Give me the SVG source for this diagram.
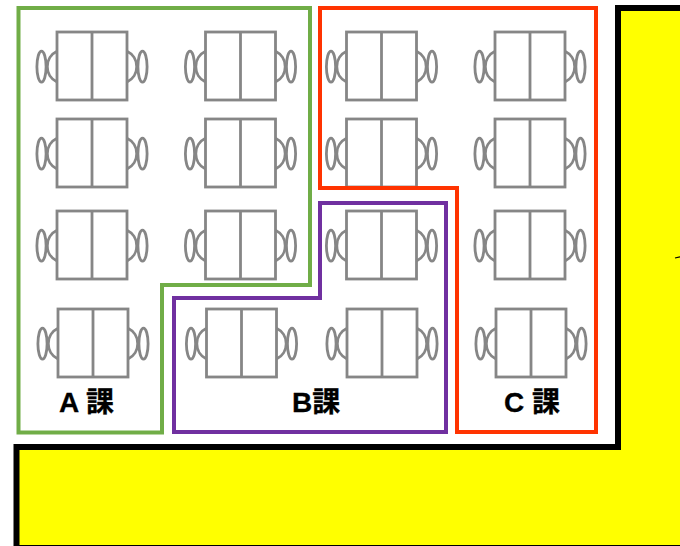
<svg xmlns="http://www.w3.org/2000/svg" width="680" height="546" viewBox="0 0 680 546">
<style>
.d{fill:#fff;stroke:#868686;stroke-width:2.800}
.c{fill:none;stroke:#868686;stroke-width:2.800}
.z{fill:none;stroke-width:4;stroke-linejoin:miter}
.t{font-family:"Liberation Sans","Noto Sans CJK JP",sans-serif;font-size:28px;font-weight:700;fill:#000;stroke:#000;stroke-width:.3}
</style>
<defs>
<g id="desk">
<ellipse class="c" cx="-15.500" cy="34.700" rx="4.600" ry="15.500"/>
<path class="c" d="M0 19.300A17 17 0 0 0 0 50"/>
<ellipse class="c" cx="85.500" cy="34.700" rx="4.600" ry="15.500"/>
<path class="c" d="M70 19.300A17 17 0 0 1 70 50"/>
<rect class="d" x="0" y="0" width="70" height="68"/>
<path class="c" d="M35 0V68"/>
</g>
</defs>
<rect width="680" height="546" fill="#fff"/>
<g id="floor"><path d="M618 8H683V548H16.500V447H618Z" fill="#ff0" stroke="#000" stroke-width="6"/>
<path d="M675 258L680 256.800" fill="none" stroke="#000" stroke-width="1.200"/></g>
<g id="desks">
<use id="desk-a1" href="#desk" x="57" y="32"/>
<use id="desk-a2" href="#desk" x="205.500" y="32"/>
<use id="desk-c1" href="#desk" x="346.500" y="32"/>
<use id="desk-c2" href="#desk" x="495" y="32"/>
<use id="desk-a3" href="#desk" x="57" y="119"/>
<use id="desk-a4" href="#desk" x="205.500" y="119"/>
<use id="desk-c3" href="#desk" x="346.500" y="119"/>
<use id="desk-c4" href="#desk" x="495" y="119"/>
<use id="desk-a5" href="#desk" x="57" y="211"/>
<use id="desk-a6" href="#desk" x="205.500" y="211"/>
<use id="desk-b1" href="#desk" x="346.500" y="211"/>
<use id="desk-c5" href="#desk" x="495" y="211"/>
<use id="desk-a7" href="#desk" x="58" y="309"/>
<use id="desk-b2" href="#desk" x="206.500" y="309"/>
<use id="desk-b3" href="#desk" x="347" y="309"/>
<use id="desk-c6" href="#desk" x="496" y="309"/>
</g>
<g id="zone-a"><path class="z" stroke="#70ad47" d="M18.500 8H310V285H162V432.500H18.500Z"/><text class="t" x="59" y="412">A 課</text></g>
<g id="zone-c"><path class="z" stroke="#ff3300" d="M320 8H596V432H457V188H320Z"/><text class="t" x="504" y="412">C 課</text></g>
<g id="zone-b"><path class="z" stroke="#7030a0" d="M320 203H446V432H174V298H320Z"/><text class="t" x="292" y="412">B課</text></g>
</svg>
